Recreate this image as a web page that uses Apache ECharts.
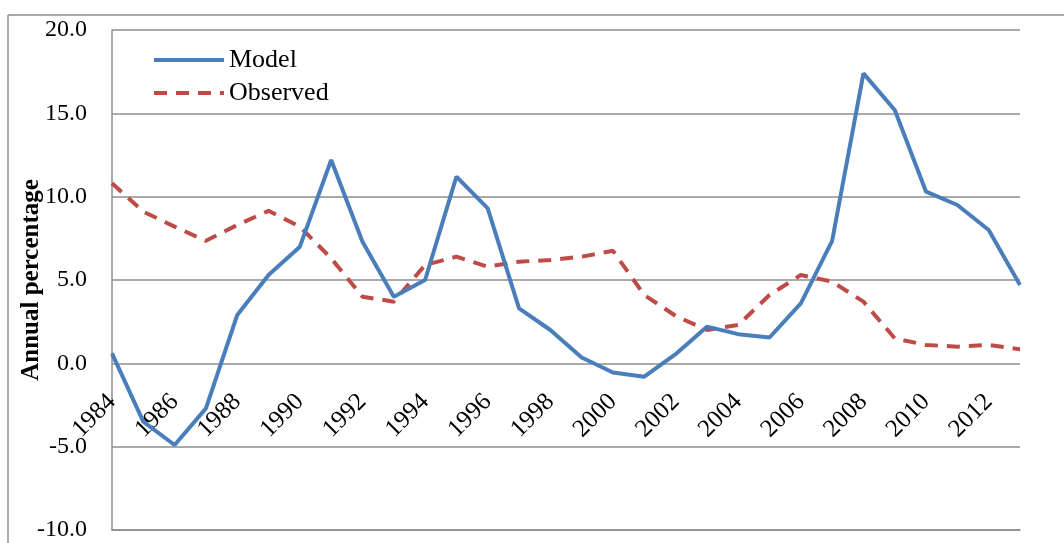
<!DOCTYPE html>
<html>
<head>
<meta charset="utf-8">
<title>Model vs Observed</title>
<script src="https://cdn.jsdelivr.net/npm/echarts@6/dist/echarts.min.js"></script>
<style>
  html, body { margin: 0; padding: 0; background: #fff; }
  #chart { width: 1064px; height: 543px; }
</style>
</head>
<body>
<div id="chart"></div>
<script>
// data
const years = ['1984','1985','1986','1987','1988','1989','1990','1991','1992','1993',
  '1994','1995','1996','1997','1998','1999','2000','2001','2002','2003',
  '2004','2005','2006','2007','2008','2009','2010','2011','2012','2013']
const model = [0.6, -3.5, -4.9, -2.7, 2.9, 5.3, 7.0, 12.2, 7.3, 4.0,
  5.0, 11.2, 9.3, 3.3, 2.0, 0.35, -0.55, -0.8, 0.55, 2.2,
  1.75, 1.55, 3.6, 7.35, 17.4, 15.2, 10.3, 9.5, 8.0, 4.7]
const observed = [10.8, 9.1, 8.2, 7.35, 8.3, 9.15, 8.2, 6.3, 4.0, 3.7,
  5.9, 6.4, 5.8, 6.1, 6.2, 6.4, 6.75, 4.1, 2.85, 2.0,
  2.3, 4.1, 5.3, 4.9, 3.7, 1.5, 1.1, 1.0, 1.1, 0.85]
const seriesNames = ['Model', 'Observed']

const serif = '"Liberation Serif", "Times New Roman", serif'
const gridGray = '#8c8c8c'

const chart = echarts.init(document.getElementById('chart'))

const option = {
  backgroundColor: '#fff',
  animation: false,
  textStyle: { fontFamily: serif, color: '#000' },
  // outer chart frame (only top and left edges are visible)
  graphic: [
    { type: 'line', shape: { x1: 8, y1: 15, x2: 1064, y2: 15 }, style: { stroke: gridGray, lineWidth: 1.5 } },
    { type: 'line', shape: { x1: 8, y1: 15, x2: 8, y2: 543 }, style: { stroke: gridGray, lineWidth: 1.5 } }
  ],
  grid: { left: 112, right: 44, top: 30, bottom: 13, containLabel: false, outerBoundsMode: 'none' },
  legend: {
    orient: 'vertical',
    left: 147,
    top: 42,
    itemWidth: 70,
    itemHeight: 14,
    itemGap: 7,
    itemStyle: { opacity: 0 },
    lineStyle: { width: 4 },
    textStyle: { fontFamily: serif, fontSize: 26, color: '#000' },
    data: seriesNames
  },
  xAxis: {
    type: 'category',
    data: years,
    boundaryGap: false,
    // axis sits at the bottom; the labels are pulled up so they hang under the zero line
    axisLine: { onZero: false, lineStyle: { color: gridGray, width: 1.5 } },
    axisTick: { show: false },
    axisLabel: {
      interval: 1,
      rotate: 45,
      margin: -132,
      fontSize: 25,
      fontFamily: serif,
      color: '#000'
    },
    splitLine: { show: false }
  },
  yAxis: {
    type: 'value',
    min: -10,
    max: 20,
    interval: 5,
    name: 'Annual percentage',
    nameLocation: 'middle',
    nameGap: 68,
    nameMoveOverlap: false,
    nameTextStyle: { fontFamily: serif, fontSize: 25, fontWeight: 'bold', color: '#000' },
    axisLine: { show: true, onZero: false, lineStyle: { color: gridGray, width: 1.5 } },
    axisTick: { show: false },
    axisLabel: {
      margin: 25,
      fontSize: 24,
      fontFamily: serif,
      color: '#000',
      formatter: v => v.toFixed(1)
    },
    splitLine: { lineStyle: { color: gridGray, width: 1.5 } }
  },
  series: [
    {
      name: seriesNames[0],
      type: 'line',
      data: model,
      symbol: 'none',
      lineStyle: { color: '#4a7ebb', width: 4 },
      itemStyle: { color: '#4a7ebb' },
      z: 3
    },
    {
      name: seriesNames[1],
      type: 'line',
      data: observed,
      symbol: 'none',
      lineStyle: { color: '#be4b48', width: 4, type: [13, 9] },
      itemStyle: { color: '#be4b48' },
      z: 2
    }
  ]
}

chart.setOption(option)
</script>
</body>
</html>
